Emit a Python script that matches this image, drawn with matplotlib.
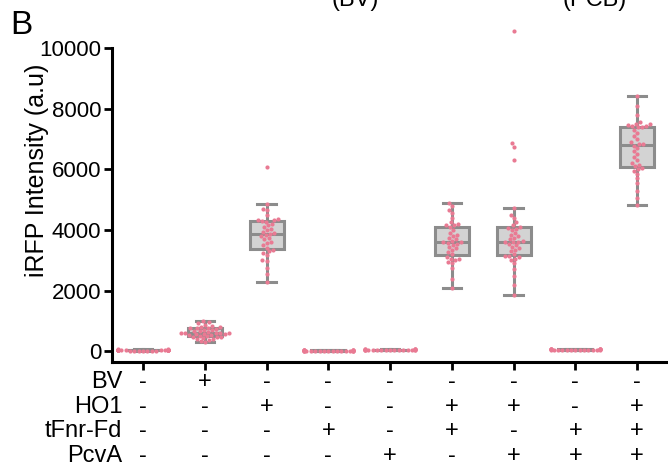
import matplotlib
matplotlib.use("Agg")
import matplotlib.pyplot as plt
import numpy as np
import pandas as pd
import seaborn as sns

plt.rcParams['font.family'] = ['Liberation Sans', 'DejaVu Sans']

# iRFP intensity per cell (a.u.)
g1 = [12, 18, 20, 22, 25, 25, 28, 30, 30, 32, 33, 35, 35, 36, 38, 40, 40, 41, 42, 44,
      45, 46, 48, 50, 52, 55, 58, 60, 65, 70]
g2 = [310, 340, 370, 400, 420, 440, 460, 470, 480, 500, 510, 530, 550, 560, 570, 580,
      590, 600, 600, 610, 620, 640, 660, 680, 700, 720, 740, 760, 770, 780, 800, 820,
      850, 880, 920, 960, 1000]
g3 = [2290, 2550, 2750, 2980, 3000, 3180, 3250, 3300, 3350, 3420, 3500, 3580, 3620,
      3700, 3750, 3800, 3850, 3880, 3900, 3950, 4000, 4050, 4100, 4150, 4200, 4280,
      4300, 4320, 4330, 4350, 4500, 4650, 4700, 4870, 6080]
g4 = [5, 8, 10, 12, 14, 15, 16, 18, 18, 20, 20, 22, 22, 24, 25, 26, 28, 30, 30, 32,
      35, 38, 40, 45]
g5 = [30, 35, 40, 42, 45, 46, 48, 50, 50, 52, 54, 55, 56, 58, 60, 62, 64, 66, 70,
      75, 80]
g6 = [2100, 2400, 2750, 2900, 2950, 3000, 3030, 3060, 3100, 3200, 3280, 3350, 3400,
      3450, 3500, 3550, 3580, 3590, 3600, 3650, 3700, 3750, 3800, 3850, 3900, 4000,
      4100, 4150, 4160, 4200, 4250, 4400, 4550, 4650, 4800, 4900]
g7 = [1850, 2200, 2500, 2700, 2900, 3000, 3050, 3100, 3130, 3150, 3200, 3300, 3350,
      3400, 3450, 3500, 3550, 3600, 3610, 3620, 3650, 3700, 3750, 3800, 3850, 3900,
      4000, 4050, 4080, 4100, 4150, 4250, 4400, 4500, 4710, 6320, 6740, 6870, 10570]
g8 = [35, 40, 45, 48, 50, 52, 54, 55, 56, 58, 60, 60, 62, 64, 65, 68, 70, 72, 75,
      80, 85]
g9 = [4830, 5050, 5300, 5550, 5700, 5850, 5950, 6000, 6050, 6100, 6150, 6200, 6300,
      6400, 6500, 6600, 6700, 6780, 6830, 6850, 6900, 7000, 7100, 7200, 7300, 7380,
      7400, 7420, 7430, 7450, 7480, 7500, 7550, 7800, 8100, 8420]
groups = [g1, g2, g3, g4, g5, g6, g7, g8, g9]

# construct table below the axis
row_names = ['BV', 'HO1', 'tFnr-Fd', 'PcvA']
BV = ['-', '+', '-', '-', '-', '-', '-', '-', '-']
HO1 = ['-', '-', '+', '-', '-', '+', '+', '-', '+']
tFnr_Fd = ['-', '-', '-', '+', '-', '+', '-', '+', '+']
PcvA = ['-', '-', '-', '-', '+', '-', '+', '+', '+']
rows = [BV, HO1, tFnr_Fd, PcvA]

df = pd.DataFrame({
    'group': np.concatenate([[i] * len(g) for i, g in enumerate(groups)]),
    'value': np.concatenate(groups),
})

box_face = '#d3d3d3'
box_edge = '#8c8c8c'
dot_color = '#e97a93'

fig = plt.figure(figsize=(6.68, 4.65), dpi=100)
ax = fig.add_axes([0.168, 0.2215, 0.832, 0.6753])

ax.boxplot(groups, positions=range(9), widths=0.55, patch_artist=True,
           showfliers=False, whis=1.5, capwidths=0.3,
           boxprops=dict(facecolor=box_face, edgecolor=box_edge, linewidth=2.2),
           medianprops=dict(color=box_edge, linewidth=2.2),
           whiskerprops=dict(color=box_edge, linewidth=2.2),
           capprops=dict(color=box_edge, linewidth=2.2))

sns.swarmplot(data=df, x='group', y='value', ax=ax, color=dot_color, size=3,
              native_scale=True, zorder=3, clip_on=False, warn_thresh=1.0)

ax.set_xlim(-0.5, 8.5)
ax.set_ylim(-350, 10000)
ax.set_yticks([0, 2000, 4000, 6000, 8000, 10000])
ax.set_xticks(range(9))
ax.set_xticklabels([])
ax.set_xlabel('')
ax.set_ylabel('')
ax.tick_params(axis='y', labelsize=16, width=2, length=6, direction='out', pad=2)
ax.tick_params(axis='x', width=2, length=6, direction='out')

ax.spines['top'].set_visible(False)
ax.spines['right'].set_visible(False)
ax.spines['left'].set_linewidth(2.2)
ax.spines['bottom'].set_linewidth(2.2)

fig.text(37 / 668, 1 - 170 / 465, 'iRFP Intensity (a.u)', fontsize=18,
         rotation=90, ha='center', va='center')

# +/- table
for r, (name, signs) in enumerate(zip(row_names, rows)):
    y = -0.064 - r * 0.078
    ax.text(0.018, y, name, transform=ax.transAxes, ha='right', va='center',
            fontsize=17)
    for i, s in enumerate(signs):
        ax.text(i, y, s, transform=ax.get_xaxis_transform(), ha='center',
                va='center', fontsize=17)

fig.text(0.015, 0.945, 'B', fontsize=24, va='center', ha='left')
fig.text(355 / 668, 1 - 6 / 465, '(BV)', fontsize=17, ha='center', va='baseline')
fig.text(595 / 668, 1 - 6 / 465, '(PCB)', fontsize=17, ha='center', va='baseline')

fig.savefig('out.png', dpi=100)
